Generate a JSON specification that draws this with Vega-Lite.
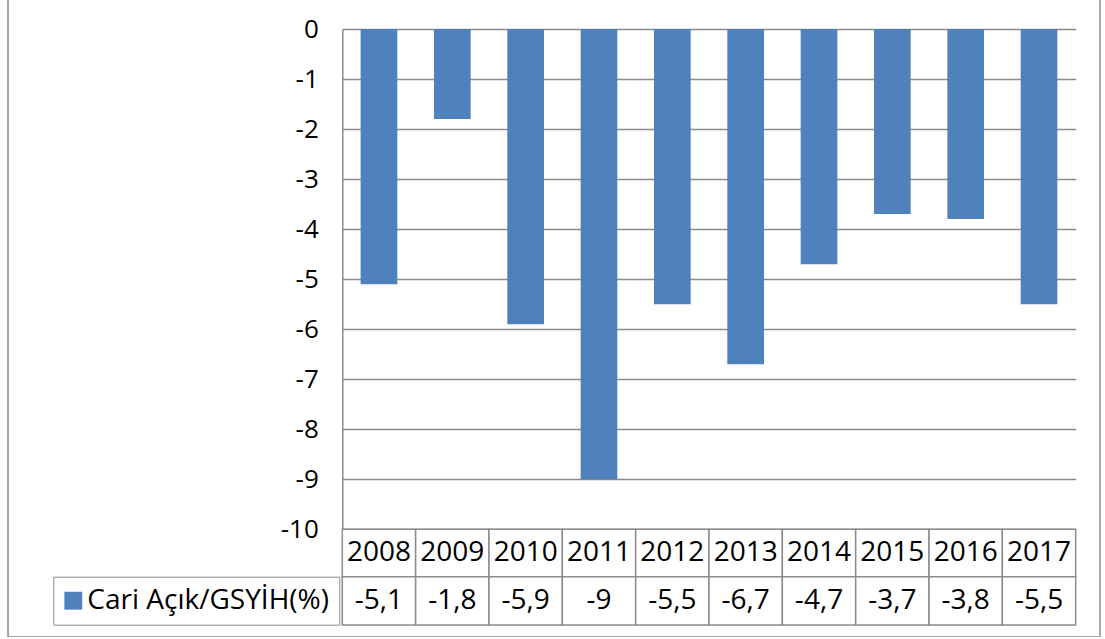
{
  "$schema": "https://vega.github.io/schema/vega-lite/v6.json",
  "width": 1092,
  "height": 639,
  "autosize": {"type": "none"},
  "padding": {"left": 8, "top": -2, "right": 5, "bottom": 0},
  "background": "white",
  "config": {
    "view": {"stroke": "#8c8c8c", "strokeWidth": 1.5},
    "font": "Open Sans"
  },
  "data": {
    "values": [
      {"year": "2008", "value": -5.1, "label": "-5,1", "series": "Cari Açık/GSYİH(%)"},
      {"year": "2009", "value": -1.8, "label": "-1,8", "series": "Cari Açık/GSYİH(%)"},
      {"year": "2010", "value": -5.9, "label": "-5,9", "series": "Cari Açık/GSYİH(%)"},
      {"year": "2011", "value": -9, "label": "-9", "series": "Cari Açık/GSYİH(%)"},
      {"year": "2012", "value": -5.5, "label": "-5,5", "series": "Cari Açık/GSYİH(%)"},
      {"year": "2013", "value": -6.7, "label": "-6,7", "series": "Cari Açık/GSYİH(%)"},
      {"year": "2014", "value": -4.7, "label": "-4,7", "series": "Cari Açık/GSYİH(%)"},
      {"year": "2015", "value": -3.7, "label": "-3,7", "series": "Cari Açık/GSYİH(%)"},
      {"year": "2016", "value": -3.8, "label": "-3,8", "series": "Cari Açık/GSYİH(%)"},
      {"year": "2017", "value": -5.5, "label": "-5,5", "series": "Cari Açık/GSYİH(%)"}
    ]
  },
  "encoding": {
    "x": {
      "field": "year",
      "type": "nominal",
      "sort": null,
      "axis": null,
      "scale": {"range": [334.3, 1067.7], "paddingInner": 0, "paddingOuter": 0}
    }
  },
  "layer": [
    {
      "mark": {"type": "bar", "width": {"band": 0.5}},
      "encoding": {
        "y": {
          "field": "value",
          "type": "quantitative",
          "scale": {"domain": [-10, 0], "range": [531.3, 31], "nice": false, "zero": false},
          "axis": {
            "values": [0, -1, -2, -3, -4, -5, -6, -7, -8, -9, -10],
            "title": null,
            "ticks": false,
            "grid": true,
            "gridColor": "#8c8c8c",
            "gridWidth": 1.5,
            "domainColor": "#8c8c8c",
            "domainWidth": 1.5,
            "labelFont": "Open Sans",
            "labelFontSize": 26,
            "labelColor": "black",
            "labelPadding": 24,
            "offset": -334.3,
            "labelExpr": "datum.value == 0 ? '0' : '-' + abs(datum.value)"
          }
        },
        "color": {
          "field": "series",
          "type": "nominal",
          "scale": {"range": ["#4F81BD"]},
          "legend": {
            "orient": "none",
            "legendX": 45.3,
            "legendY": 578.7,
            "title": null,
            "symbolType": "square",
            "symbolSize": 320,
            "symbolStrokeWidth": 0,
            "symbolOffset": -4,
            "labelFont": "Open Sans",
            "labelFontSize": 28,
            "labelColor": "black",
            "labelLimit": 500,
            "labelOffset": 0,
            "padding": 10,
            "strokeColor": "#8c8c8c",
            "fillColor": "white"
          }
        }
      }
    },
    {
      "mark": {"type": "rect", "fill": "white", "stroke": "#8c8c8c", "strokeWidth": 1.5},
      "encoding": {
        "y": {"datum": -10, "scale": {"domain": [-10, 0], "range": [531.3, 31], "nice": false, "zero": false}},
        "y2": {"datum": -10.947}
      }
    },
    {
      "mark": {"type": "rect", "fill": "white", "stroke": "#8c8c8c", "strokeWidth": 1.5},
      "encoding": {
        "y": {"datum": -10.947, "scale": {"domain": [-10, 0], "range": [531.3, 31], "nice": false, "zero": false}},
        "y2": {"datum": -11.913}
      }
    },
    {
      "mark": {"type": "text", "font": "Open Sans", "fontSize": 28, "color": "black", "baseline": "middle", "align": "center"},
      "encoding": {
        "y": {"datum": -10.474, "scale": {"domain": [-10, 0], "range": [531.3, 31], "nice": false, "zero": false}},
        "text": {"field": "year"}
      }
    },
    {
      "mark": {"type": "text", "font": "Open Sans", "fontSize": 28, "color": "black", "baseline": "middle", "align": "center"},
      "encoding": {
        "y": {"datum": -11.43, "scale": {"domain": [-10, 0], "range": [531.3, 31], "nice": false, "zero": false}},
        "text": {"field": "label"}
      }
    }
  ]
}
